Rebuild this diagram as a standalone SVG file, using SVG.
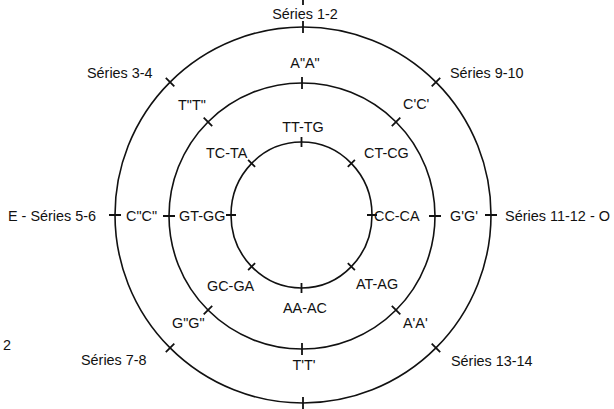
<svg xmlns="http://www.w3.org/2000/svg" width="614" height="409" viewBox="0 0 614 409">
<style>
.ring{fill:none;stroke:#111;stroke-width:1.6}
.tick{fill:none;stroke:#111;stroke-width:1.8}
text{font-family:"Liberation Sans",Arial,sans-serif;font-size:14.4px;fill:#111}
.m{text-anchor:middle}
</style>
<rect width="614" height="409" fill="#fff"/>
<g id="connectors">
<circle id="outer-ring" class="ring" cx="303" cy="215" r="188"/>
<circle id="middle-ring" class="ring" cx="302" cy="216" r="133"/>
<ellipse id="inner-ring" class="ring" cx="301.5" cy="215" rx="70.5" ry="73"/>
<path class="tick" d="M485 215H497M109 215H121M303 21V33M303 0V5M303 397V409M431.7 86.3L440.2 77.8M174.3 86.3L165.8 77.8M431.7 343.7L440.2 352.2M174.3 343.7L165.8 352.2"/>
<path class="tick" d="M429 216H441M163 216H175M302 77V89M302 343V355M391.8 126.2L400.3 117.7M212.2 126.2L203.7 117.7M391.8 305.8L400.3 314.3M212.2 305.8L203.7 314.3"/>
<path class="tick" d="M367 215H377M226 215H236M301.5 137V147M301.5 283V293M347.8 166.9L354.9 159.9M255.1 166.9L248.1 159.9M347.8 263.1L354.9 270.1M255.1 263.1L248.1 270.1"/>
</g>
<g id="outer-labels">
<text class="m" x="305" y="19">Séries 1-2</text>
<text x="87" y="78">Séries 3-4</text>
<text x="450" y="78">Séries 9-10</text>
<text x="8" y="221">E - Séries 5-6</text>
<text x="505" y="221" textLength="105" lengthAdjust="spacingAndGlyphs">Séries 11-12 - O</text>
<text x="81" y="365">Séries 7-8</text>
<text x="451" y="366">Séries 13-14</text>
<text x="3" y="350">2</text>
</g>
<g id="middle-labels">
<text class="m" x="305" y="68">A"A"</text>
<text x="178" y="110">T"T"</text>
<text x="403" y="109">C'C'</text>
<text x="126" y="221">C"C"</text>
<text x="450" y="221">G'G'</text>
<text x="172" y="328">G"G"</text>
<text x="403" y="328">A'A'</text>
<text class="m" x="304" y="370">T'T'</text>
</g>
<g id="inner-labels">
<text class="m" x="303" y="131.5">TT-TG</text>
<text x="206" y="157.5">TC-TA</text>
<text x="364" y="157.5">CT-CG</text>
<text x="179" y="221">GT-GG</text>
<text x="374" y="221">CC-CA</text>
<text x="207" y="290.5">GC-GA</text>
<text x="356" y="289">AT-AG</text>
<text class="m" x="305" y="313">AA-AC</text>
</g>
</svg>
